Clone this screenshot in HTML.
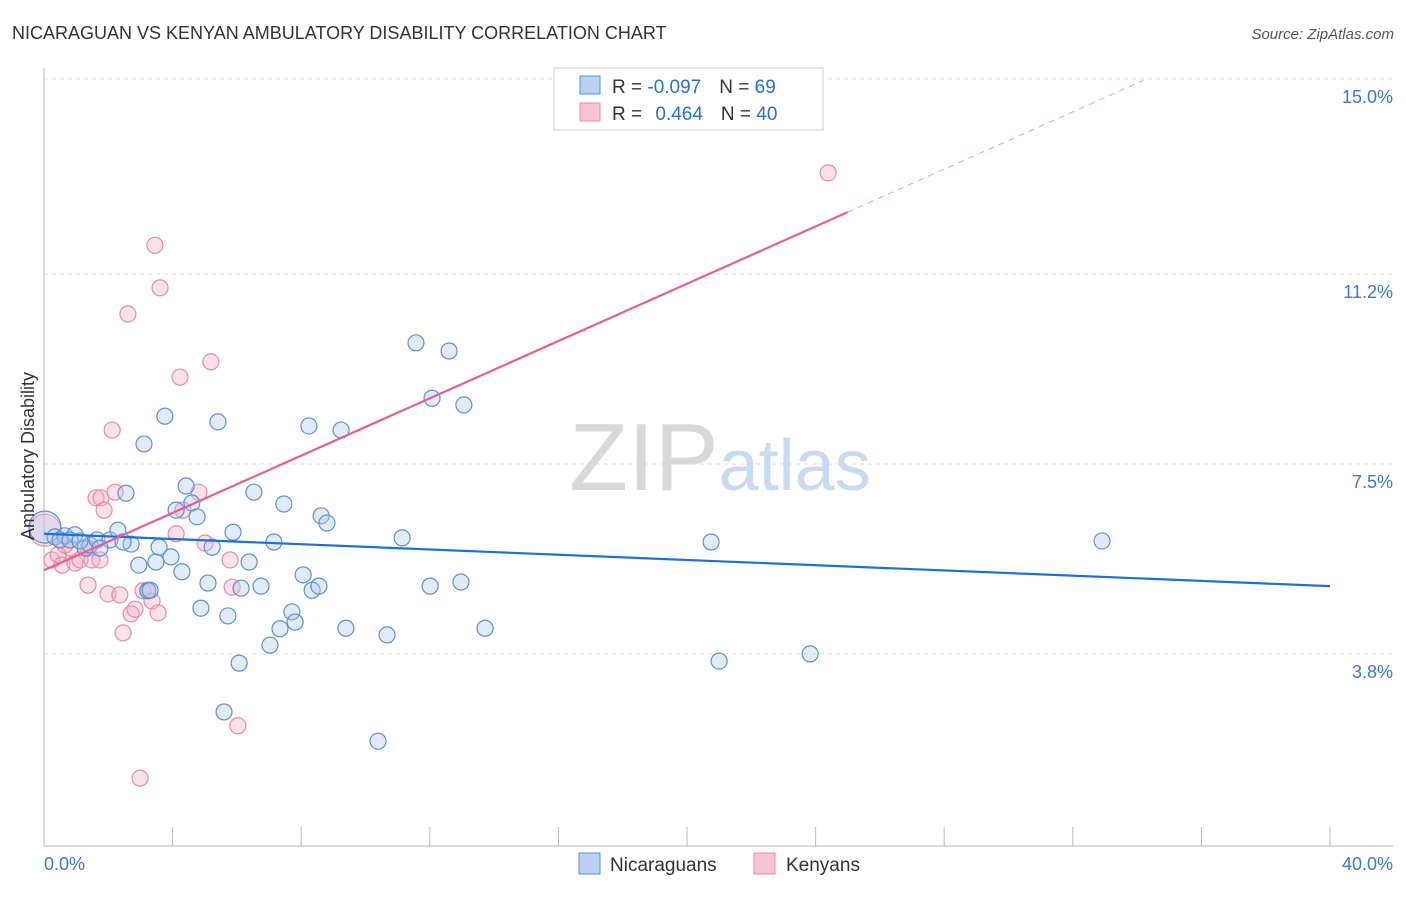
<!DOCTYPE html>
<html><head><meta charset="utf-8"><style>
body{margin:0;background:#fff;font-family:"Liberation Sans",sans-serif;}
svg text{font-family:"Liberation Sans",sans-serif;}
</style></head><body>
<svg id="chart" width="1406" height="892" viewBox="0 0 1406 892">
<text x="12" y="39" font-size="18" fill="#333">NICARAGUAN VS KENYAN AMBULATORY DISABILITY CORRELATION CHART</text>
<text x="1394" y="39" font-size="15" fill="#555" font-style="italic" text-anchor="end">Source: ZipAtlas.com</text>
<g id="grid"></g>
<text x="720" y="490" font-size="96" fill="#ddd" text-anchor="middle" font-family="Liberation Serif"><tspan fill="#d8d8d8">ZIP</tspan><tspan fill="#c8daf0" font-family="Liberation Sans" font-size="72">atlas</tspan></text>
<g id="axes"></g>
<g id="pts"></g>
<g id="lines"></g>
<text transform="translate(34,456) rotate(-90)" font-size="18" fill="#333" text-anchor="middle">Ambulatory Disability</text>
<g>
<rect x="554" y="68" width="269" height="62" fill="#fff" stroke="#ccc"/>
<rect x="580" y="76" width="20" height="18" fill="#b8d1f0" stroke="#5b8fd9"/>
<rect x="580" y="103" width="20" height="18" fill="#f8c4d2" stroke="#e88aa6"/>
<text x="612" y="93" font-size="19" fill="#333">R = <tspan fill="#2a6fd6">-0.097</tspan><tspan dx="18">N = </tspan><tspan fill="#2a6fd6">69</tspan></text>
<text x="612" y="120" font-size="19" fill="#333">R = <tspan fill="#2a6fd6" dx="8">0.464</tspan><tspan dx="18">N = </tspan><tspan fill="#2a6fd6">40</tspan></text>
</g>
<g>
<rect x="579" y="853" width="21" height="21" fill="#b8d1f0" stroke="#5b8fd9"/>
<text x="610" y="871" font-size="19" fill="#333">Nicaraguans</text>
<rect x="754" y="853" width="21" height="21" fill="#f8c4d2" stroke="#e88aa6"/>
<text x="786" y="871" font-size="19" fill="#333">Kenyans</text>
</g>
</svg>
<script>
const yTicks=[3.8,7.5,11.2,15.0];
const yTickLabels=["3.8%","7.5%","11.2%","15.0%"];
const xTickLabels=["0.0%","40.0%"];
const blueX=[0.03,0.34,0.65,0.96,1.28,1.43,1.65,2.05,2.30,2.55,2.71,2.95,3.11,3.48,3.58,3.76,3.95,4.11,4.29,4.42,4.60,4.76,4.88,5.10,5.23,5.41,5.60,5.72,5.88,6.07,6.13,6.38,6.53,6.75,7.03,7.15,7.34,7.46,7.71,7.81,8.06,8.24,8.34,8.55,8.62,8.80,9.24,9.39,10.39,10.67,11.14,11.57,12.01,12.07,12.60,12.97,13.06,13.72,20.75,21.00,23.83,32.91,0.50,0.81,1.74,2.46,1.12,3.23,3.30];
const blueY=[6.27,6.08,6.10,6.12,5.86,5.92,6.02,6.02,6.21,6.93,5.94,5.53,7.89,5.59,5.88,8.43,5.69,6.60,5.40,7.07,6.74,6.47,4.69,5.18,5.88,8.32,2.67,4.54,6.17,3.62,5.08,5.59,6.95,5.12,3.97,5.98,4.29,6.72,4.62,4.42,5.34,8.24,5.04,5.12,6.49,6.35,8.16,4.30,2.10,4.17,6.06,9.86,5.12,8.78,9.70,5.20,8.65,4.30,5.98,3.66,3.80,6.00,6.02,6.02,5.86,5.98,6.00,5.03,5.04];
const pinkX=[0.03,0.25,0.44,0.56,0.81,0.96,1.12,1.37,1.49,1.62,1.77,1.87,1.99,2.12,2.21,2.36,2.46,2.61,2.71,2.83,2.99,3.08,3.23,3.36,3.45,3.55,3.61,4.11,4.23,4.32,4.82,5.01,5.19,5.79,5.85,6.03,24.39,1.37,0.65,1.74];
const pinkY=[6.21,5.63,5.73,5.53,5.86,5.57,5.63,5.86,5.63,6.84,6.84,6.60,4.97,8.16,6.95,4.95,4.21,10.42,4.58,4.67,1.38,5.03,5.04,4.83,11.76,4.60,10.93,6.14,9.19,6.60,6.95,5.96,9.49,5.63,5.10,2.40,13.17,5.14,5.92,5.63];
const blueLine=[6.14,-0.0255];
const pinkLine=[5.43,0.279];
const pinkSolidEnd=25.0, pinkDashEnd=34.2;

const NS="http://www.w3.org/2000/svg";
const X0=44,X1=1330,Y0=849,PY=51.34;
const xs=v=>X0+v*(X1-X0)/40;
const ys=v=>Y0-v*PY;
function mk(tag,attrs,parent){const e=document.createElementNS(NS,tag);for(const k in attrs)e.setAttribute(k,attrs[k]);parent.appendChild(e);return e;}
const grid=document.getElementById('grid'),axes=document.getElementById('axes'),pts=document.getElementById('pts'),lines=document.getElementById('lines');
yTicks.forEach((t,i)=>{
  const l=mk('line',{x1:44,x2:1393,y1:ys(t),y2:ys(t),stroke:'#ddd','stroke-dasharray':'4,4'},grid);
  
  
  const tx=mk('text',{x:1393,y:ys(t)+24,'font-size':18,fill:'#3a78d6','text-anchor':'end'},axes);
  tx.textContent=yTickLabels[i];
  
  
});
mk('line',{x1:44,x2:44,y1:68,y2:846,stroke:'#bbb'},axes);
mk('line',{x1:44,x2:1393,y1:846,y2:846,stroke:'#bbb'},axes);
for(let i=0;i<=10;i++){
  const t=mk('line',{x1:xs(i*4),x2:xs(i*4),y1:827,y2:846,stroke:'#bbb'},axes);
  
  
}
const xl0=mk('text',{x:44,y:870,'font-size':18,fill:'#3a78d6'},axes);xl0.textContent=xTickLabels[0];


const xl1=mk('text',{x:1393,y:870,'font-size':18,fill:'#3a78d6','text-anchor':'end'},axes);xl1.textContent=xTickLabels[1];


function dots(X,Y,fill,stroke,name){
  X.forEach((x,i)=>{
    const r=(i===0)?16:8;
    const c=mk('circle',{cx:xs(x),cy:ys(Y[i]),r:r,fill:fill,'fill-opacity':0.35,stroke:stroke,'stroke-width':1.2},pts);
    
    
  });
}
dots(pinkX,pinkY,'#f5aac0','#e88aa6','kenyan-point');
dots(blueX,blueY,'#a9c8f0','#5b8fd9','nicaraguan-point');
const bl=mk('line',{x1:xs(0),y1:ys(blueLine[0]),x2:xs(40),y2:ys(blueLine[0]+blueLine[1]*40),stroke:'#1f6fd6','stroke-width':2.2},lines);


const pl=mk('line',{x1:xs(0),y1:ys(pinkLine[0]),x2:xs(pinkSolidEnd),y2:ys(pinkLine[0]+pinkLine[1]*pinkSolidEnd),stroke:'#e8608a','stroke-width':2.2},lines);


const pd=mk('line',{x1:xs(pinkSolidEnd),y1:ys(pinkLine[0]+pinkLine[1]*pinkSolidEnd),x2:xs(pinkDashEnd),y2:ys(pinkLine[0]+pinkLine[1]*pinkDashEnd),stroke:'#eea0b8','stroke-width':1,'stroke-dasharray':'6,5'},lines);


</script>
</body></html>
